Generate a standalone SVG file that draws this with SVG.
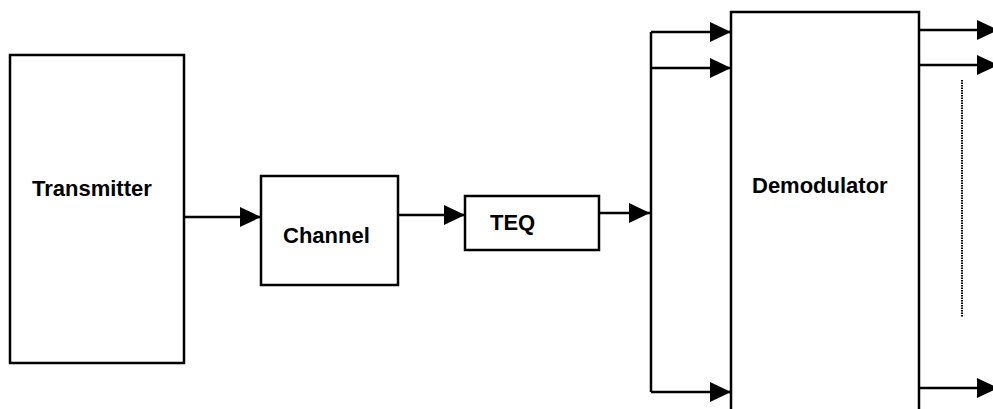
<svg xmlns="http://www.w3.org/2000/svg" width="993" height="409" viewBox="0 0 993 409">
<style>
.box{fill:#fff;stroke:#000;stroke-width:2.5}
.lbl{font-family:"Liberation Sans",Arial,sans-serif;font-weight:bold;font-size:22px;fill:#000}
.ln{fill:none;stroke:#000;stroke-width:2.5}
.dot{fill:none;stroke:#000;stroke-width:2;stroke-dasharray:1.5 1}
</style>
<defs>
<marker id="ah" markerWidth="21" markerHeight="20" refX="21" refY="10" orient="auto" markerUnits="userSpaceOnUse">
<path d="M0,0 L21,10 L0,20 Z" fill="#000"/>
</marker>
</defs>
<rect width="993" height="409" fill="#fff"/>
<g id="transmitter">
<rect class="box" x="10" y="55" width="174" height="308"/>
<text class="lbl" x="32" y="196">Transmitter</text>
</g>
<g id="channel">
<rect class="box" x="261" y="176" width="137" height="109"/>
<text class="lbl" x="283" y="243">Channel</text>
</g>
<g id="teq">
<rect class="box" x="465" y="196" width="134" height="54"/>
<text class="lbl" x="490" y="230">TEQ</text>
</g>
<g id="demodulator">
<path class="box" d="M731,409 V12 H919 V409"/>
<text class="lbl" x="752" y="193">Demodulator</text>
</g>
<g id="connectors">
<line class="ln" x1="184" y1="217" x2="261" y2="217" marker-end="url(#ah)"/>
<line class="ln" x1="398" y1="215" x2="465" y2="215" marker-end="url(#ah)"/>
<line class="ln" x1="599" y1="213" x2="650" y2="213" marker-end="url(#ah)"/>
<line class="ln" x1="651" y1="32" x2="651" y2="392"/>
<line class="ln" x1="651" y1="32" x2="731" y2="32" marker-end="url(#ah)"/>
<line class="ln" x1="651" y1="68" x2="731" y2="68" marker-end="url(#ah)"/>
<line class="ln" x1="651" y1="392" x2="731" y2="392" marker-end="url(#ah)"/>
<line class="ln" x1="919" y1="30" x2="998" y2="30" marker-end="url(#ah)"/>
<line class="ln" x1="919" y1="65" x2="998" y2="65" marker-end="url(#ah)"/>
<line class="ln" x1="919" y1="388" x2="998" y2="388" marker-end="url(#ah)"/>
<line class="dot" x1="962" y1="80" x2="962" y2="317"/>
</g>
</svg>
